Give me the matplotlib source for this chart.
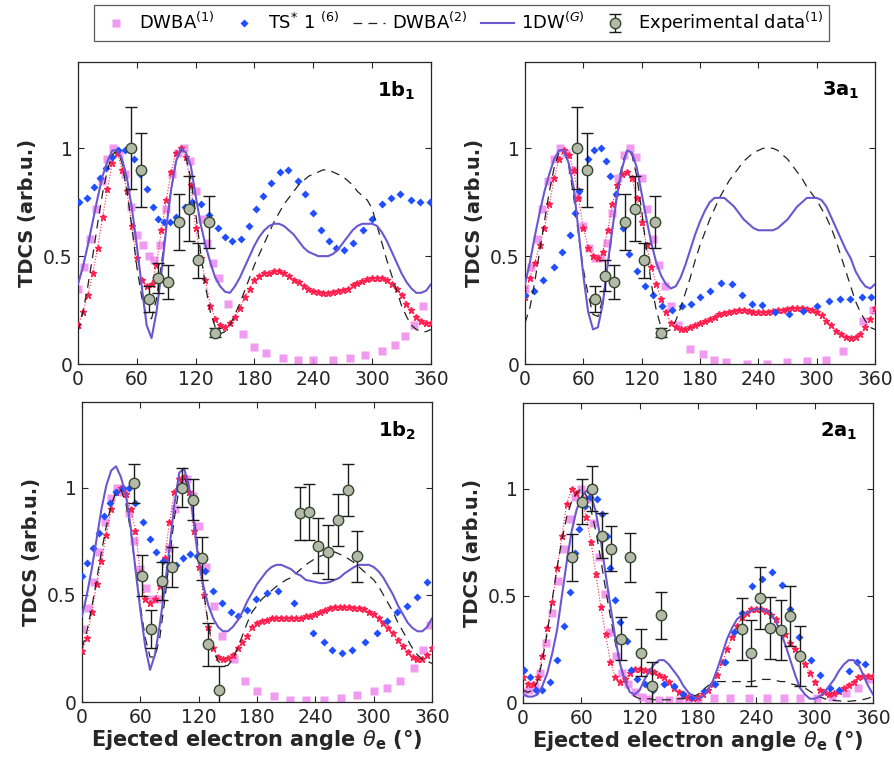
import matplotlib
matplotlib.use("Agg")
import matplotlib.pyplot as plt

# ---------------- data ----------------
ang5 = list(range(0, 361, 5))

# Panel 1b1
p1_1dw = [0.37,0.45,0.55,0.66,0.77,0.87,0.94,0.99,0.99,0.95,0.86,0.72,0.55,0.36,0.18,0.12,0.24,0.42,0.63,0.81,0.94,1.0,0.98,0.92,0.78,0.65,0.55,0.47,0.40,0.36,0.335,0.33,0.36,0.40,0.45,0.50,0.55,0.59,0.62,0.64,0.65,0.65,0.64,0.62,0.60,0.57,0.54,0.52,0.51,0.50,0.50,0.50,0.51,0.53,0.56,0.59,0.62,0.64,0.65,0.65,0.65,0.64,0.61,0.57,0.52,0.47,0.42,0.38,0.35,0.33,0.33,0.34,0.37]
p1_dwba2 = [0.15,0.24,0.36,0.50,0.65,0.79,0.90,0.97,0.99,0.93,0.80,0.63,0.45,0.31,0.22,0.21,0.30,0.46,0.64,0.81,0.94,0.99,0.96,0.86,0.70,0.52,0.36,0.24,0.17,0.14,0.15,0.18,0.23,0.28,0.34,0.40,0.46,0.51,0.56,0.61,0.66,0.70,0.74,0.77,0.80,0.83,0.85,0.87,0.88,0.89,0.90,0.90,0.89,0.88,0.87,0.85,0.83,0.80,0.78,0.76,0.72,0.64,0.56,0.48,0.41,0.34,0.27,0.22,0.18,0.16,0.15,0.15,0.16]
p1_red = [0.18,0.24,0.32,0.42,0.54,0.68,0.81,0.93,0.98,0.90,0.80,0.64,0.49,0.39,0.36,0.37,0.46,0.62,0.76,0.89,0.98,1.0,0.96,0.83,0.63,0.49,0.39,0.27,0.21,0.18,0.17,0.19,0.22,0.26,0.31,0.35,0.39,0.41,0.42,0.42,0.43,0.43,0.42,0.41,0.39,0.38,0.36,0.35,0.34,0.335,0.33,0.33,0.335,0.34,0.345,0.35,0.365,0.375,0.385,0.395,0.40,0.40,0.40,0.39,0.37,0.35,0.32,0.28,0.25,0.22,0.20,0.19,0.19]
p1_dw1_x = [0,6,12,18,24,30,36,42,48,54,60,66,72,78,84,90,96,102,108,114,120,126,132,138,144,153,168,180,192,209,224,240,260,277,293,310,323,333,343,352]
p1_dw1_y = [0.35,0.45,0.58,0.72,0.85,0.95,1.0,0.98,0.88,0.73,0.60,0.55,0.50,0.48,0.55,0.72,0.88,0.98,1.0,0.94,0.80,0.67,0.56,0.47,0.40,0.28,0.14,0.08,0.05,0.03,0.02,0.02,0.02,0.03,0.04,0.06,0.09,0.13,0.18,0.27]
p1_ts_x = [1,9,16,22,29,35,41,48,57,63,70,76,82,88,94,100,109,116,125,134,143,150,157,166,174,182,189,197,206,214,224,232,240,248,256,263,271,280,291,300,310,319,328,340,349,359]
p1_ts_y = [0.75,0.77,0.82,0.86,0.91,0.96,0.99,0.99,0.95,0.88,0.81,0.73,0.67,0.66,0.66,0.68,0.73,0.75,0.74,0.69,0.63,0.59,0.57,0.58,0.64,0.72,0.78,0.84,0.89,0.90,0.85,0.79,0.70,0.62,0.57,0.54,0.53,0.56,0.62,0.67,0.74,0.77,0.79,0.76,0.75,0.75]
p1_exp_x = [54,64,72,82,92,103,113,122,134,140]
p1_exp_y = [1.0,0.90,0.30,0.40,0.38,0.66,0.72,0.48,0.66,0.145]
p1_exp_e = [0.19,0.17,0.06,0.07,0.08,0.13,0.15,0.08,0.12,0.02]

# Panel 3a1
p2_1dw = [0.37,0.47,0.59,0.70,0.80,0.88,0.95,0.99,0.99,0.93,0.82,0.62,0.41,0.24,0.16,0.17,0.28,0.46,0.63,0.79,0.91,0.99,0.98,0.91,0.79,0.67,0.56,0.47,0.41,0.37,0.35,0.36,0.40,0.46,0.53,0.60,0.66,0.71,0.75,0.77,0.77,0.77,0.75,0.73,0.70,0.67,0.65,0.63,0.62,0.62,0.62,0.62,0.63,0.65,0.67,0.70,0.73,0.75,0.77,0.77,0.77,0.76,0.73,0.68,0.63,0.58,0.53,0.49,0.43,0.39,0.36,0.35,0.37]
p2_dwba2 = [0.19,0.26,0.38,0.52,0.66,0.80,0.91,0.98,0.99,0.92,0.78,0.60,0.44,0.32,0.23,0.22,0.30,0.45,0.63,0.80,0.93,0.99,0.97,0.87,0.71,0.53,0.37,0.25,0.17,0.15,0.16,0.20,0.26,0.33,0.40,0.48,0.55,0.61,0.67,0.72,0.77,0.81,0.85,0.88,0.91,0.94,0.96,0.98,0.99,1.0,1.0,1.0,0.99,0.97,0.95,0.92,0.89,0.86,0.82,0.79,0.76,0.72,0.68,0.63,0.57,0.50,0.43,0.36,0.29,0.24,0.20,0.17,0.16]
p2_red = [0.31,0.40,0.47,0.55,0.63,0.74,0.86,0.95,0.99,0.97,0.90,0.77,0.63,0.54,0.50,0.49,0.52,0.62,0.74,0.83,0.88,0.89,0.86,0.77,0.66,0.55,0.45,0.37,0.30,0.24,0.19,0.17,0.16,0.16,0.17,0.18,0.19,0.20,0.21,0.22,0.23,0.235,0.24,0.245,0.25,0.25,0.245,0.24,0.24,0.24,0.24,0.245,0.25,0.25,0.255,0.26,0.26,0.26,0.255,0.25,0.24,0.225,0.20,0.18,0.155,0.14,0.125,0.12,0.125,0.14,0.17,0.21,0.26]
p2_dw1_x = [0,6,12,18,24,30,36,42,48,54,60,66,72,78,84,90,96,102,108,114,120,126,132,138,144,150,157,170,183,194,207,228,249,269,290,310,327,348,358]
p2_dw1_y = [0.35,0.45,0.58,0.72,0.85,0.95,1.0,0.98,0.90,0.78,0.64,0.54,0.49,0.49,0.56,0.70,0.86,0.97,1.0,0.96,0.86,0.72,0.58,0.46,0.36,0.27,0.18,0.07,0.045,0.02,0.01,0.0,0.0,0.01,0.015,0.02,0.06,0.20,0.25]
p2_ts_x = [0,9,19,30,38,46,51,56,65,71,78,83,87,94,101,107,115,123,132,141,151,161,171,180,190,202,213,223,233,244,257,272,286,300,313,324,334,347,356]
p2_ts_y = [0.32,0.34,0.39,0.45,0.52,0.60,0.70,0.80,0.95,0.99,1.0,0.94,0.87,0.79,0.63,0.51,0.43,0.36,0.32,0.27,0.25,0.27,0.28,0.31,0.34,0.375,0.37,0.32,0.28,0.275,0.24,0.23,0.245,0.27,0.29,0.30,0.30,0.31,0.31]
p2_exp_x = [54,64,72,82,92,103,113,122,134,140]
p2_exp_y = [1.0,0.90,0.30,0.41,0.38,0.66,0.72,0.48,0.66,0.145]
p2_exp_e = [0.19,0.17,0.06,0.07,0.08,0.13,0.15,0.08,0.12,0.02]

# Panel 1b2
p3_1dw = [0.40,0.50,0.62,0.76,0.90,1.01,1.08,1.10,1.05,0.97,0.82,0.62,0.43,0.26,0.15,0.22,0.36,0.53,0.72,0.92,1.07,1.09,1.01,0.84,0.66,0.54,0.45,0.39,0.35,0.33,0.33,0.35,0.38,0.42,0.47,0.51,0.55,0.58,0.61,0.63,0.64,0.64,0.63,0.62,0.60,0.59,0.57,0.565,0.56,0.555,0.555,0.56,0.57,0.58,0.60,0.615,0.63,0.64,0.64,0.64,0.63,0.61,0.58,0.54,0.50,0.45,0.41,0.37,0.345,0.33,0.33,0.35,0.39]
p3_dwba2 = [0.25,0.33,0.44,0.57,0.70,0.82,0.92,0.98,0.99,0.93,0.80,0.62,0.45,0.30,0.21,0.21,0.30,0.47,0.67,0.86,1.0,1.05,1.0,0.87,0.70,0.52,0.36,0.25,0.19,0.17,0.17,0.20,0.25,0.31,0.37,0.42,0.45,0.48,0.50,0.52,0.54,0.555,0.57,0.58,0.60,0.62,0.64,0.655,0.67,0.68,0.69,0.70,0.70,0.69,0.68,0.665,0.65,0.63,0.61,0.59,0.57,0.54,0.50,0.46,0.42,0.37,0.33,0.29,0.25,0.22,0.20,0.19,0.18]
p3_red = [0.24,0.30,0.42,0.55,0.66,0.78,0.90,0.98,1.0,0.97,0.90,0.80,0.60,0.48,0.46,0.48,0.54,0.67,0.84,0.98,1.04,1.05,0.98,0.80,0.63,0.50,0.35,0.25,0.21,0.20,0.205,0.22,0.25,0.28,0.31,0.35,0.37,0.38,0.385,0.39,0.39,0.39,0.39,0.39,0.39,0.39,0.40,0.40,0.41,0.42,0.43,0.44,0.445,0.445,0.445,0.445,0.44,0.44,0.435,0.42,0.41,0.39,0.37,0.345,0.32,0.29,0.26,0.235,0.21,0.20,0.20,0.22,0.25]
p3_dw1_x = [0,6,12,18,24,30,36,42,48,54,60,66,72,78,84,90,96,102,108,114,120,128,136,144,156,168,180,197,214,230,249,266,283,300,314,327,341,351,358]
p3_dw1_y = [0.34,0.44,0.56,0.70,0.84,0.95,1.0,0.98,0.88,0.75,0.62,0.53,0.48,0.48,0.56,0.72,0.90,1.02,1.04,0.96,0.82,0.63,0.45,0.31,0.20,0.097,0.05,0.026,0.01,0.01,0.01,0.02,0.034,0.05,0.065,0.097,0.16,0.245,0.36]
p3_ts_x = [0,5,11,17,23,29,35,42,48,55,63,70,76,83,90,97,104,111,118,127,135,144,153,160,170,179,190,202,218,238,249,257,267,278,291,303,314,324,334,345,355]
p3_ts_y = [0.59,0.65,0.72,0.79,0.87,0.93,0.98,1.0,1.0,0.93,0.84,0.76,0.70,0.66,0.63,0.64,0.67,0.69,0.68,0.61,0.52,0.46,0.42,0.40,0.43,0.48,0.51,0.52,0.46,0.32,0.28,0.245,0.23,0.245,0.28,0.32,0.38,0.42,0.45,0.49,0.56]
p3_exp_x = [53,62,71,82,93,103,114,123,130,141,224,234,243,253,263,274,283]
p3_exp_y = [1.02,0.59,0.34,0.565,0.63,1.0,0.945,0.67,0.27,0.058,0.88,0.886,0.73,0.70,0.85,0.99,0.68]
p3_exp_e = [0.09,0.095,0.09,0.09,0.095,0.09,0.095,0.10,0.10,0.11,0.125,0.13,0.13,0.125,0.12,0.12,0.12]

# Panel 2a1
p4_1dw = [0.04,0.03,0.03,0.04,0.08,0.14,0.23,0.34,0.50,0.66,0.80,0.90,0.96,0.99,0.97,0.89,0.76,0.60,0.45,0.30,0.18,0.10,0.05,0.04,0.06,0.11,0.15,0.18,0.20,0.20,0.18,0.15,0.12,0.08,0.05,0.03,0.02,0.03,0.06,0.10,0.16,0.23,0.30,0.35,0.39,0.41,0.42,0.43,0.44,0.44,0.43,0.42,0.38,0.33,0.27,0.20,0.13,0.07,0.04,0.02,0.02,0.03,0.05,0.08,0.11,0.15,0.18,0.20,0.20,0.18,0.13,0.08,0.04]
p4_dwba2 = [0.06,0.05,0.06,0.10,0.20,0.33,0.48,0.63,0.76,0.87,0.94,0.98,1.0,0.97,0.90,0.80,0.67,0.53,0.40,0.28,0.18,0.10,0.05,0.03,0.02,0.02,0.02,0.015,0.015,0.015,0.015,0.015,0.02,0.02,0.025,0.03,0.04,0.06,0.08,0.09,0.10,0.10,0.10,0.10,0.10,0.10,0.10,0.10,0.105,0.11,0.11,0.11,0.105,0.10,0.10,0.09,0.085,0.08,0.07,0.055,0.04,0.03,0.02,0.016,0.012,0.01,0.008,0.008,0.01,0.012,0.016,0.022,0.03]
p4_red = [0.12,0.09,0.09,0.12,0.22,0.35,0.47,0.63,0.78,0.93,1.0,0.98,0.94,0.87,0.75,0.60,0.45,0.32,0.19,0.12,0.10,0.11,0.14,0.16,0.16,0.155,0.15,0.145,0.13,0.12,0.10,0.07,0.05,0.04,0.03,0.023,0.03,0.04,0.06,0.09,0.13,0.19,0.25,0.31,0.36,0.40,0.42,0.44,0.44,0.44,0.43,0.41,0.39,0.35,0.32,0.28,0.25,0.22,0.18,0.14,0.10,0.06,0.05,0.04,0.045,0.055,0.07,0.085,0.10,0.12,0.125,0.125,0.125]
p4_dw1_x = [0,6,12,18,24,30,36,42,48,54,60,66,72,78,84,90,96,102,108,115,122,130,140,150,160,170,180,196,213,232,251,268,285,302,318,332,345,356]
p4_dw1_y = [0.05,0.06,0.08,0.14,0.28,0.42,0.57,0.72,0.86,0.96,1.0,0.95,0.84,0.68,0.51,0.33,0.22,0.14,0.09,0.05,0.03,0.02,0.015,0.015,0.015,0.02,0.02,0.023,0.023,0.023,0.023,0.023,0.023,0.025,0.03,0.045,0.07,0.11]
p4_ts_x = [1,7,13,20,28,35,42,48,54,58,64,69,76,81,86,90,95,100,107,111,117,126,134,145,155,165,174,186,198,208,217,225,236,246,256,266,275,284,296,306,316,325,335,344,352]
p4_ts_y = [0.155,0.12,0.06,0.06,0.10,0.20,0.36,0.52,0.70,0.81,0.92,0.96,0.95,0.88,0.78,0.63,0.48,0.38,0.29,0.155,0.11,0.09,0.06,0.09,0.08,0.04,0.03,0.055,0.09,0.19,0.33,0.42,0.545,0.58,0.61,0.55,0.44,0.31,0.20,0.13,0.07,0.06,0.15,0.19,0.18]
p4_exp_x = [50,61,71,81,91,101,110,121,133,142,225,235,244,254,265,275,285]
p4_exp_y = [0.68,0.94,1.0,0.78,0.72,0.30,0.68,0.234,0.078,0.41,0.345,0.234,0.49,0.35,0.343,0.405,0.22]
p4_exp_e = [0.11,0.105,0.105,0.105,0.105,0.10,0.115,0.11,0.115,0.11,0.145,0.155,0.145,0.145,0.14,0.14,0.14]

panel_labels = [r"$\mathbf{1b_1}$", r"$\mathbf{3a_1}$", r"$\mathbf{1b_2}$", r"$\mathbf{2a_1}$"]
legend_labels = [r"DWBA$^{(1)}$", r"TS$^{*}$ 1 $^{(6)}$", r"DWBA$^{(2)}$", r"1DW$^{(G)}$", r"Experimental data$^{(1)}$"]
xticks = [0, 60, 120, 180, 240, 300, 360]
yticks = [0, 0.5, 1]
ytick_labels = ["0", "0.5", "1"]

panels = [
    (p1_1dw, p1_dwba2, p1_red, p1_dw1_x, p1_dw1_y, p1_ts_x, p1_ts_y, p1_exp_x, p1_exp_y, p1_exp_e),
    (p2_1dw, p2_dwba2, p2_red, p2_dw1_x, p2_dw1_y, p2_ts_x, p2_ts_y, p2_exp_x, p2_exp_y, p2_exp_e),
    (p3_1dw, p3_dwba2, p3_red, p3_dw1_x, p3_dw1_y, p3_ts_x, p3_ts_y, p3_exp_x, p3_exp_y, p3_exp_e),
    (p4_1dw, p4_dwba2, p4_red, p4_dw1_x, p4_dw1_y, p4_ts_x, p4_ts_y, p4_exp_x, p4_exp_y, p4_exp_e),
]

# ---------------- drawing ----------------
plt.rcParams['font.family'] = ['DejaVu Sans']
plt.rcParams['mathtext.fontset'] = 'dejavusans'

W, H = 895, 763
fig = plt.figure(figsize=(W / 100, H / 100), dpi=100)

boxes_px = [(78, 62, 431, 364), (525, 62, 875, 364), (82, 402, 432, 702), (523, 403, 873, 703)]
axc = '#262626'
handles = None
for i, (box, data) in enumerate(zip(boxes_px, panels)):
    l, t, r, b = box
    ax = fig.add_axes([l / W, 1 - b / H, (r - l) / W, (b - t) / H])
    dw1dw, dwba2, red, sqx, sqy, tsx, tsy, ex, ey, ee = data
    h1, = ax.plot(sqx, sqy, ls='none', marker='s', ms=6, color='#ee88ee', alpha=0.85, mec='none', zorder=2)
    ax.plot(ang5, red, ls=':', lw=0.8, marker='*', ms=5, color='#ff2050', mec='#ff2050', zorder=3)
    h2, = ax.plot(tsx, tsy, ls='none', marker='D', ms=4.4, color='#1f4fff', mec='none', zorder=4)
    h3, = ax.plot(ang5, dwba2, ls=(0, (7, 5)), lw=0.9, color='#222222', zorder=5)
    h4, = ax.plot(ang5, dw1dw, ls='-', lw=1.5, color='#6b57d0', zorder=6)
    h5 = ax.errorbar(ex, ey, yerr=ee, fmt='o', ms=7.5, mfc='#b4b9a8', mec='#344a30', mew=1.0,
                     ecolor='#1a1a1a', elinewidth=1.0, capsize=4.5, capthick=1.0, zorder=7)
    if handles is None:
        handles = [h1, h2, h3, h4, h5]
    ax.set_xlim(0, 360)
    ax.set_ylim(0, 1.4)
    ax.set_xticks(xticks)
    ax.set_yticks(yticks)
    ax.set_yticklabels(ytick_labels)
    ax.tick_params(direction='in', top=True, right=True, length=4, width=0.8,
                   labelsize=13.5, colors=axc, labelcolor=axc, pad=4)
    for s in ax.spines.values():
        s.set_color(axc)
        s.set_linewidth(0.9)
    ax.set_ylabel("TDCS (arb.u.)", fontsize=14, fontweight='bold', color=axc, labelpad=4)
    if i >= 2:
        ax.set_xlabel(r"Ejected electron angle $\theta_{\mathbf{e}}$ (°)", fontsize=15,
                      fontweight='bold', color=axc, labelpad=1)
    ax.text(0.955, 0.905, panel_labels[i], transform=ax.transAxes, ha='right', va='center',
            fontsize=14, color='black')

leg = fig.legend(handles, legend_labels, loc='center', bbox_to_anchor=(0.5156, 0.970), ncol=5,
                 fontsize=13, frameon=True, fancybox=False, edgecolor='#333333',
                 handlelength=1.8, handletextpad=0.4, columnspacing=0.75, borderpad=0.3,
                 borderaxespad=0.0)
leg.get_frame().set_linewidth(0.9)

fig.savefig("out.png", dpi=100)
